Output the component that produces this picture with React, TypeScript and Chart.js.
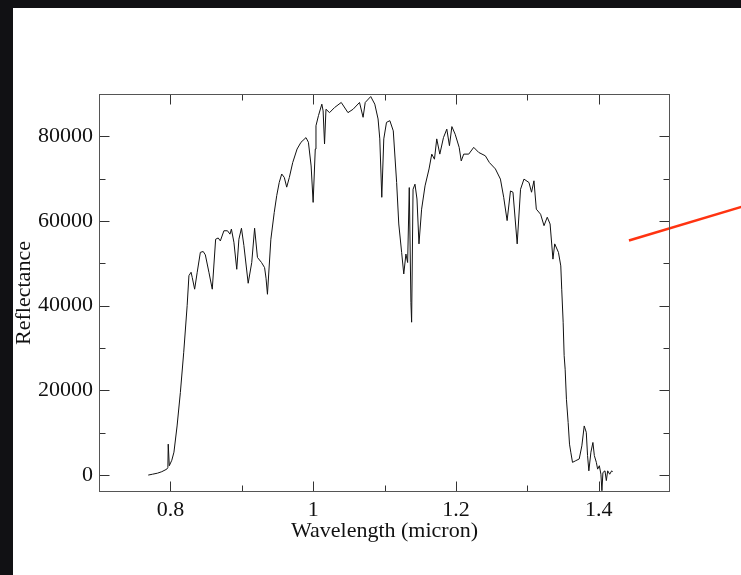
import React, { useEffect, useRef } from "react";
import { Chart, registerables } from "chart.js";

Chart.register(...registerables);

const WAVELENGTH = [
  0.769, 0.775, 0.782, 0.788, 0.795, 0.7965, 0.797, 0.7985, 0.802, 0.805,
  0.8094, 0.814, 0.8187, 0.8235, 0.826, 0.829, 0.8306, 0.834, 0.8376, 0.842,
  0.846, 0.849, 0.854, 0.8587, 0.8634, 0.867, 0.87, 0.875, 0.88, 0.8835,
  0.8855, 0.889, 0.893, 0.896, 0.8996, 0.903, 0.909, 0.914, 0.918, 0.922,
  0.9277, 0.932, 0.934, 0.936, 0.9408, 0.9455, 0.949, 0.9525, 0.956, 0.9596,
  0.963, 0.9667, 0.9714, 0.9775, 0.983, 0.99, 0.9934, 0.9972, 1.0, 1.003,
  1.004, 1.0075, 1.0122, 1.014, 1.016, 1.018, 1.023, 1.03, 1.0394, 1.0488,
  1.056, 1.065, 1.07, 1.073, 1.0807, 1.0864, 1.091, 1.0934, 1.0962, 1.099,
  1.1028, 1.1075, 1.1123, 1.117, 1.12, 1.124, 1.127, 1.13, 1.1324, 1.1347,
  1.137, 1.138, 1.14, 1.1427, 1.1455, 1.1483, 1.152, 1.1568, 1.1624, 1.1662,
  1.17, 1.1732, 1.1775, 1.1826, 1.1873, 1.191, 1.1944, 1.199, 1.2046, 1.2075,
  1.211, 1.218, 1.225, 1.232, 1.2413, 1.247, 1.2554, 1.2624, 1.267, 1.2718,
  1.2765, 1.28, 1.2859, 1.2906, 1.2954, 1.3024, 1.306, 1.3094, 1.3127, 1.3187,
  1.3235, 1.328, 1.332, 1.336, 1.3385, 1.3437, 1.347, 1.3483, 1.3503, 1.3517,
  1.3531, 1.3549, 1.3573, 1.3592, 1.361, 1.3634, 1.368, 1.3728, 1.3765, 1.3798,
  1.3827, 1.3845, 1.3863, 1.3892, 1.392, 1.394, 1.3968, 1.3986, 1.401, 1.4032,
  1.4046, 1.406, 1.4089, 1.4108, 1.4127, 1.4155, 1.4183, 1.4197,
];

const REFLECTANCE = [
  0, 200, 450, 800, 1400, 1800, 7300, 2200, 3500, 5400,
  11600, 19500, 29000, 40000, 47100, 47900, 46700, 43900, 47900, 52600,
  52800, 52000, 47900, 43900, 55700, 56000, 55300, 57700, 57700, 56900,
  58100, 55000, 48600, 55700, 58300, 54200, 45300, 50200, 58300, 51400,
  50200, 49000, 46500, 42700, 55700, 62000, 66000, 69100, 71100, 70300,
  68000, 70300, 73800, 77000, 78600, 79700, 78600, 73000, 64400, 77000,
  82500, 84900, 87600, 86000, 78200, 86400, 85600, 86800, 88000, 85600,
  86400, 88000, 84500, 88000, 89400, 87600, 84100, 79400, 65600, 79400,
  83300, 83700, 81300, 69100, 59300, 52600, 47500, 52200, 50200, 67900,
  40800, 36100, 67500, 68700, 65200, 54600, 62800, 68300, 72300, 75800,
  74600, 79400, 75800, 79700, 81700, 77800, 82300, 80500, 77400, 74200,
  75800, 75800, 77400, 76200, 75400, 73800, 72300, 69900, 65600, 60100,
  67100, 66800, 54600, 67500, 69900, 69100, 66800, 69500, 62800, 61600,
  58900, 60900, 59300, 51000, 54600, 52600, 49400, 43900, 36100, 28200,
  25000, 17900, 12400, 7300, 5400, 3000, 3400, 3800, 6900, 11600,
  10100, 4600, 1000, 5400, 7700, 4600, 3000, 1400, 2200, 200,
  -3700, 600, 1000, -1300, 1000, 200, 1000, 800,
];

const X_MAJOR_TICKS = [0.8, 1.0, 1.2, 1.4];
const X_MINOR_TICKS = [0.9, 1.1, 1.3];
const Y_MAJOR_TICKS = [0, 20000, 40000, 60000, 80000];
const Y_MINOR_TICKS = [10000, 30000, 50000, 70000];

const POINTER_X = [1.4425, 1.6042];
const POINTER_Y = [55400, 63540];

const FONT = { family: "'Liberation Serif', 'Times New Roman', serif", size: 22 };

const framePlugin = {
  id: "frameTicks",
  afterDatasetsDraw(chart: any) {
    const { ctx, chartArea, scales } = chart;
    const { left, right, top, bottom } = chartArea;
    const xs = scales.x;
    const ys = scales.y;
    const L = Math.round(left) + 0.5;
    const R = Math.round(right) - 0.5;
    const T = Math.round(top) + 0.5;
    const B = Math.round(bottom) - 0.5;
    ctx.save();
    ctx.lineWidth = 1;
    ctx.strokeStyle = "#333";
    const major = 10;
    const minor = 6;
    const xTick = (v: number, len: number) => {
      const p = Math.round(xs.getPixelForValue(v)) + 0.5;
      ctx.beginPath();
      ctx.moveTo(p, B);
      ctx.lineTo(p, B - len);
      ctx.moveTo(p, T);
      ctx.lineTo(p, T + len);
      ctx.stroke();
    };
    const yTick = (v: number, len: number) => {
      const p = Math.round(ys.getPixelForValue(v)) + 0.5;
      ctx.beginPath();
      ctx.moveTo(L, p);
      ctx.lineTo(L + len, p);
      ctx.moveTo(R, p);
      ctx.lineTo(R - len, p);
      ctx.stroke();
    };
    X_MAJOR_TICKS.forEach((v) => xTick(v, major));
    X_MINOR_TICKS.forEach((v) => xTick(v, minor));
    Y_MAJOR_TICKS.forEach((v) => yTick(v, major));
    Y_MINOR_TICKS.forEach((v) => yTick(v, minor));
    ctx.strokeStyle = "#555";
    ctx.strokeRect(L, T, R - L, B - T);
    ctx.restore();
  },
};

export default function App() {
  const canvasRef = useRef<HTMLCanvasElement | null>(null);

  useEffect(() => {
    const canvas = canvasRef.current;
    if (!canvas) return;
    const chart = new Chart(canvas, {
      type: "line",
      data: {
        datasets: [
          {
            data: WAVELENGTH.map((x, i) => ({ x, y: REFLECTANCE[i] })),
            borderColor: "#111",
            borderWidth: 1,
            pointRadius: 0,
            tension: 0,
            fill: false,
          },
          {
            data: POINTER_X.map((x, i) => ({ x, y: POINTER_Y[i] })),
            borderColor: "#ff3311",
            borderWidth: 2.5,
            pointRadius: 0,
            tension: 0,
            fill: false,
            clip: false as any,
          },
        ],
      },
      options: {
        animation: false,
        responsive: false,
        devicePixelRatio: 1,
        events: [],
        layout: { padding: { top: 86, right: 71, left: 0, bottom: 13 } },
        plugins: {
          legend: { display: false },
          tooltip: { enabled: false },
        },
        scales: {
          x: {
            type: "linear",
            min: 0.7,
            max: 1.5,
            grid: { display: false, drawTicks: false },
            border: { display: false },
            afterBuildTicks: (s: any) => {
              s.ticks = X_MAJOR_TICKS.map((v) => ({ value: v }));
            },
            afterFit: (s: any) => {
              s.height = 70;
            },
            ticks: {
              font: FONT,
              color: "#111",
              padding: 5,
              maxRotation: 0,
              autoSkip: false,
              callback: (v: any) => String(Number(v)),
            },
            title: {
              display: true,
              text: "Wavelength (micron)",
              font: FONT,
              color: "#111",
              padding: { top: 0, bottom: 18 },
            },
          },
          y: {
            type: "linear",
            min: -4000,
            max: 90000,
            grid: { display: false, drawTicks: false },
            border: { display: false },
            afterBuildTicks: (s: any) => {
              s.ticks = Y_MAJOR_TICKS.map((v) => ({ value: v }));
            },
            afterFit: (s: any) => {
              s.width = 86;
            },
            ticks: {
              font: FONT,
              color: "#111",
              padding: 6,
              autoSkip: false,
              callback: (v: any) => String(Number(v)),
            },
            title: {
              display: true,
              text: "Reflectance",
              font: FONT,
              color: "#111",
              padding: { top: -2, bottom: 0 },
            },
          },
        },
      },
      plugins: [framePlugin],
    });
    return () => chart.destroy();
  }, []);

  return (
    <div
      style={{
        position: "fixed",
        left: 0,
        top: 0,
        width: 741,
        height: 575,
        background: "#111114",
        overflow: "hidden",
      }}
    >
      <div
        style={{
          position: "absolute",
          left: 13,
          top: 8,
          width: 728,
          height: 567,
          background: "#ffffff",
        }}
      >
        <canvas ref={canvasRef} width={728} height={567} style={{ display: "block" }} />
      </div>
    </div>
  );
}
